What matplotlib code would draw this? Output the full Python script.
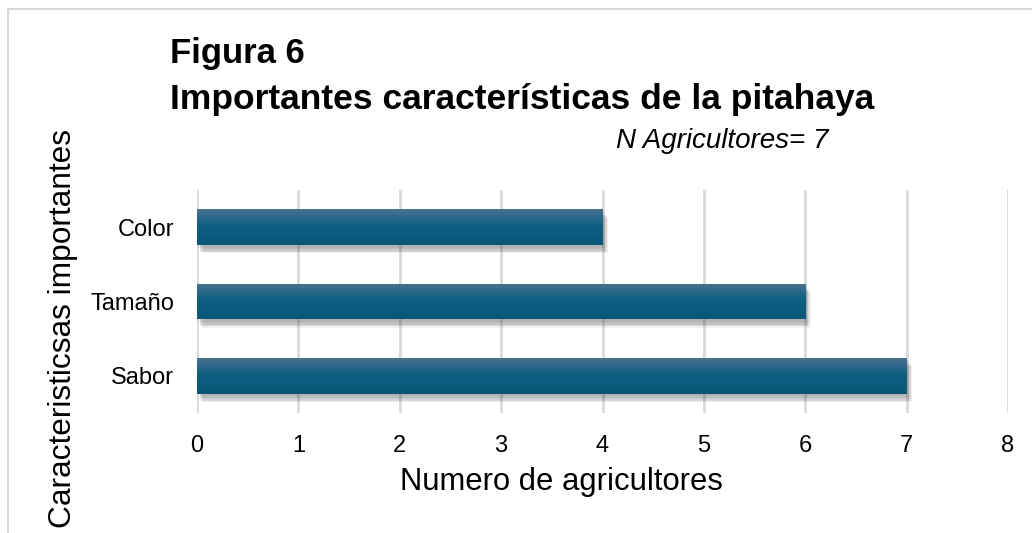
import numpy as np
import matplotlib.pyplot as plt
from matplotlib import patheffects
from matplotlib.colors import LinearSegmentedColormap
from matplotlib.patches import Rectangle

plt.rcParams["font.family"] = ["Liberation Sans", "DejaVu Sans"]

categorias = ["Sabor", "Tamaño", "Color"]
agricultores = [7, 6, 4]
ticks_x = [0, 1, 2, 3, 4, 5, 6, 7, 8]

fig = plt.figure(figsize=(10.32, 5.33), dpi=100)
ax = fig.add_axes([197 / 1032, 1 - 413 / 533, (1008 - 197) / 1032, (413 - 190) / 533])

# marco del gráfico
fig.patches.append(Rectangle((8 / 1032, -0.1), 1.2, 1 - 9 / 533 + 0.1,
                             transform=fig.transFigure, fill=False,
                             edgecolor="#d9d9d9", lw=1.5, zorder=0))

# sombra difusa: varias capas desplazadas con poca opacidad
sombra = [patheffects.SimplePatchShadow(offset=(dx, dy), alpha=0.07, shadow_rgbFace="#333333")
          for dx, dy in [(1, -2), (2, -3), (3, -4), (3, -5), (4, -6), (2, -5)]]
sombra.append(patheffects.Normal())

y = np.arange(len(categorias))
bars = ax.barh(y, agricultores, height=0.48, color="#0e5f84", zorder=3, path_effects=sombra)

# degradado vertical en cada barra
cmap = LinearSegmentedColormap.from_list("grad", [(0, "#0b5678"), (0.55, "#0f5f83"), (1, "#4a7290")])
grad = np.linspace(0, 1, 100).reshape(-1, 1)
for b in bars:
    x0, y0, w, h = b.get_x(), b.get_y(), b.get_width(), b.get_height()
    im = ax.imshow(grad, extent=(x0, x0 + w, y0, y0 + h), origin="lower",
                   cmap=cmap, aspect="auto", zorder=4)
    im.set_clip_path(b)

ax.set_xlim(0, 8)
ax.set_ylim(-0.5, 2.5)
ax.set_xticks(ticks_x)
ax.set_yticks(y)
ax.set_yticklabels(categorias)
ax.grid(True, axis="x", color="#d9d9d9", lw=2, zorder=0)
for s in ax.spines.values():
    s.set_visible(False)
ax.tick_params(length=0, labelsize=17, colors="#000000")
ax.tick_params(axis="x", pad=16)
ax.tick_params(axis="y", pad=16.5)

fig.text(561 / 1032, 1 - 482 / 533, "Numero de agricultores", fontsize=22.3,
         ha="center", va="center")
fig.text(63 / 1032, 1 - 328 / 533, "Caracteristicsas importantes", rotation=90,
         fontsize=22.8, ha="center", va="center")

fig.text(170 / 1032, 1 - 54 / 533, "Figura 6", fontsize=25, fontweight="bold", va="center")
fig.text(170 / 1032, 1 - 100 / 533, "Importantes características de la pitahaya",
         fontsize=25.5, fontweight="bold", va="center")
fig.text(828 / 1032, 1 - 141 / 533, "N Agricultores= 7", fontsize=20, style="italic",
         ha="right", va="center")

fig.savefig("out.png", dpi=100)
